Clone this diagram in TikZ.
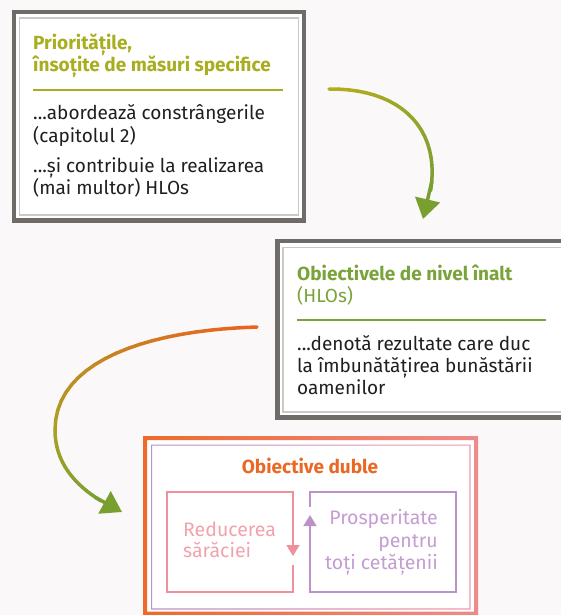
\documentclass[tikz,border=0pt]{standalone}
\usepackage{fontspec}
\setmainfont{Fira Sans}
\usetikzlibrary{arrows.meta}

\definecolor{bgcol}{HTML}{FAF8F8}
\definecolor{grayframe}{HTML}{6F6B69}
\definecolor{grayline}{HTML}{CAC9C7}
\definecolor{olivetxt}{HTML}{A8AE20}
\definecolor{greentxt}{HTML}{7AA33A}
\definecolor{orangetxt}{HTML}{EA6824}
\definecolor{pinkline}{HTML}{EF919D}
\definecolor{pinktxt}{HTML}{F2A2AD}
\definecolor{purpline}{HTML}{BC93C9}
\definecolor{purptxt}{HTML}{C59DD1}
\definecolor{frmL}{HTML}{EE6A2C}
\definecolor{frmR}{HTML}{EF8A8B}
\definecolor{inL}{HTML}{B992C8}
\definecolor{inR}{HTML}{E99CAE}
\definecolor{arrA}{HTML}{B2AE1C}
\definecolor{arrO}{HTML}{E9641F}
\definecolor{arrM}{HTML}{A9A127}
\definecolor{arrG}{HTML}{7A9F31}

\begin{document}
\begin{tikzpicture}[x=1pt,y=-1pt,
  outerbox/.style={draw=grayframe, line width=4.5pt, fill=white,
                   inner sep=0pt, outer sep=0pt, anchor=north west},
  innerbox/.style={draw=grayline, line width=1.2pt},
  hd/.style={anchor=base west, inner sep=0pt, font=\fontsize{19}{22}\selectfont\bfseries},
  body/.style={anchor=base west, inner sep=0pt, font=\fontsize{19}{22}\selectfont, text=black!88},
  twin/.style={inner sep=0pt, font=\fontsize{19.5}{23}\selectfont},
  cyc/.style={line width=1.3pt, -{Triangle[length=11pt,width=13pt]}},
  grad/.style={line width=3.5pt, line cap=round},
  tip/.style={line width=3.5pt, draw=arrG, -{Triangle[length=20pt,width=25pt]}},
]
% background
\fill[bgcol] (0,0) rectangle (561,615);
\clip (0,0) rectangle (561,615);

% Box 1: priorities
\node[outerbox, minimum width=290pt, minimum height=208.5pt] (prio) at (14,12) {};
\draw[innerbox] ([xshift=5.5pt,yshift=-6pt]prio.north west) rectangle ([xshift=-5.5pt,yshift=5.5pt]prio.south east);
\node[hd, text=olivetxt] (prioA) at (33,50) {Prioritățile,};
\node[hd, text=olivetxt] (prioB) at (33,72) {însoțite de măsuri specifice};
\draw[olivetxt, line width=1.3pt] (33,90) -- (283,90);
\node[body] (prioC) at (33,120) {...abordează constrângerile};
\node[body] (prioD) at (33,142) {(capitolul 2)};
\node[body] (prioE) at (33,172) {...și contribuie la realizarea};
\node[body] (prioF) at (33,194) {(mai multor) HLOs};

% Box 2: high level objectives
\node[outerbox, minimum width=302.5pt, minimum height=176.5pt] (hlo) at (277.5,241) {};
\draw[innerbox] ([xshift=5.5pt,yshift=-6.5pt]hlo.north west) rectangle ([xshift=-5.5pt,yshift=5.5pt]hlo.south east);
\node[hd, text=greentxt] (hloA) at (297,280) {Obiectivele de nivel înalt};
\node[body, text=greentxt] (hloB) at (297,302) {(HLOs)};
\draw[greentxt, line width=1.3pt] (297,320) -- (546,320);
\node[body] (hloC) at (297,350) {...denotă rezultate care duc};
\node[body] (hloD) at (297,372) {la îmbunătățirea bunăstării};
\node[body] (hloE) at (297,394) {oamenilor};

% Box 3: twin objectives
\node[fill=white, inner sep=0pt, outer sep=0pt, anchor=north west,
      minimum width=335pt, minimum height=179.5pt] (duo) at (143,436) {};
\shade[left color=frmL, right color=frmR, even odd rule]
  (143,436) rectangle (478,615.5) (147,440) rectangle (474,611.5);
\shade[left color=inL, right color=inR, even odd rule]
  (151,444.5) rectangle (470.5,609.5) (152.2,445.7) rectangle (469.3,608.3);
\node[hd, anchor=base, text=orangetxt] (duohd) at (310,473) {Obiective duble};

% cycle between the two goals
\draw[cyc, pinkline] (293,565) -- (293,592) -- (167,592) -- (167,492) -- (293,492) -- (293,556);
\draw[cyc, purpline] (310,507) -- (310,492) -- (456,492) -- (456,592) -- (310,592) -- (310,515);
\node[twin, anchor=base west, text=pinktxt] (redA) at (183,536) {Reducerea};
\node[twin, anchor=base west, text=pinktxt] (redB) at (183,557) {sărăciei};
\node[twin, anchor=base east, text=purptxt] (prosA) at (438,524) {Prosperitate};
\node[twin, anchor=base east, text=purptxt] (prosB) at (438,547) {pentru};
\node[twin, anchor=base east, text=purptxt] (prosC) at (438,569) {toți cetățenii};

% arrow: priorities -> HLOs
\coordinate (a1s) at (329,89);
\coordinate (a1e) at (423,219);
\foreach \i in {0,...,24}
  \path (a1s) .. controls (410,88) and (452,140) .. (a1e) coordinate[pos=\i/24] (u\i);
\foreach \i [evaluate=\i as \j using int(\i+1), evaluate=\i as \m using int(100-100*\i/20)] in {0,...,20}
  \draw[grad, draw=arrA!\m!arrG] (u\i) -- (u\j);
\draw[tip] (u20) -- (u24);

% arrow: HLOs -> twin objectives
\coordinate (a2s) at (257,327);
\coordinate (a2m) at (55,430);
\coordinate (a2e) at (122,512);
\foreach \i in {0,...,20}{
  \path (a2s) .. controls (150,330) and (55,360) .. (a2m) coordinate[pos=\i/20] (v\i);
  \path (a2m) .. controls (55,470) and (85,495) .. (a2e) coordinate[pos=\i/20] (w\i);
}
\foreach \i [evaluate=\i as \j using int(\i+1), evaluate=\i as \m using int(100-5*\i)] in {0,...,19}
  \draw[grad, draw=arrO!\m!arrM] (v\i) -- (v\j);
\foreach \i [evaluate=\i as \j using int(\i+1), evaluate=\i as \m using int(100-100*\i/15)] in {0,...,15}
  \draw[grad, draw=arrM!\m!arrG] (w\i) -- (w\j);
\draw[tip] (w15) -- (w20);
\end{tikzpicture}
\end{document}
